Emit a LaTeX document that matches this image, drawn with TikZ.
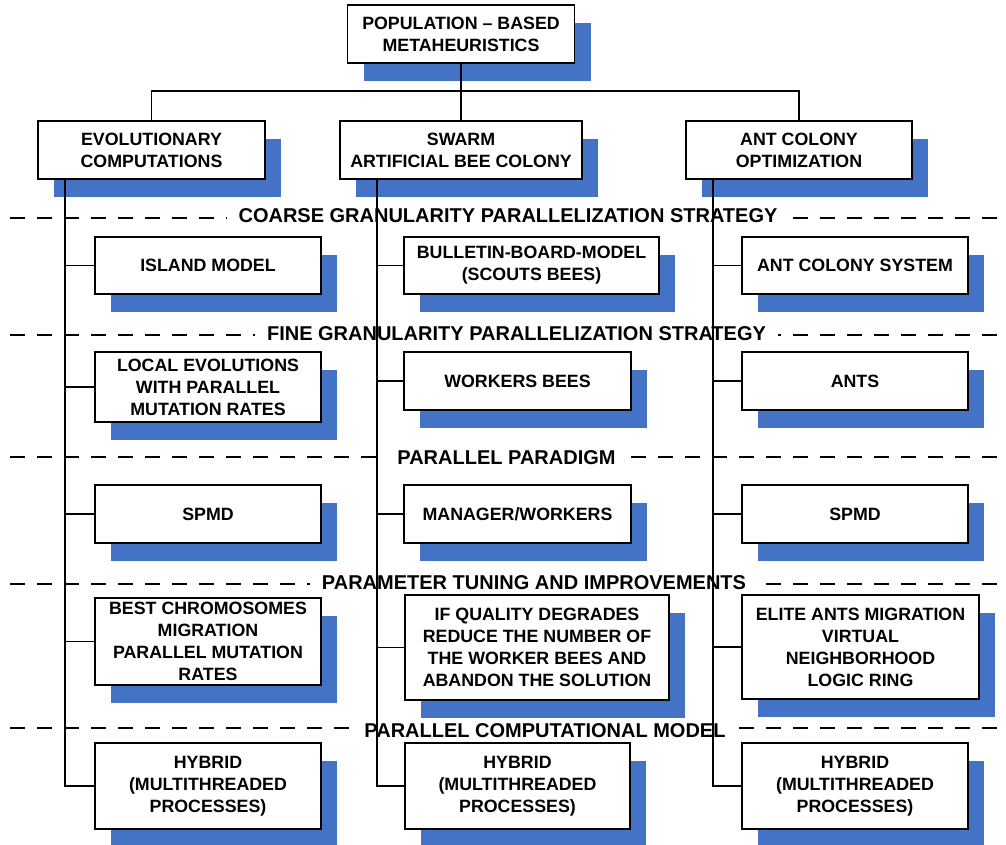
\documentclass[tikz,border=0pt]{standalone}
\usepackage{fontspec}
\setmainfont{Liberation Sans}
\usetikzlibrary{shadows}
\definecolor{shadowblue}{RGB}{68,114,196}
\begin{document}
\begin{tikzpicture}[x=1pt,y=-1pt,
 box/.style={draw=black, line width=1.8pt, fill=white, align=center, inner sep=2pt,
   font=\bfseries\fontsize{17.8}{22}\selectfont,
   drop shadow={shadow xshift=16pt, shadow yshift=-18pt, fill=shadowblue, opacity=1, draw=none}},
 lbl/.style={fill=white, font=\bfseries\fontsize{20}{24}\selectfont, inner xsep=12pt, inner ysep=1pt, text height=14.3pt, text depth=0pt},
 sep/.style={line width=1.7pt, dash pattern=on 15pt off 12pt},
 conn/.style={line width=1.8pt}]
\useasboundingbox (0,0) rectangle (1006,845);

% separators
\draw[sep] (10,218) -- (1006,218);
\draw[sep] (10,335) -- (1006,335);
\draw[sep] (10,457) -- (1006,457);
\draw[sep] (10,584) -- (1006,584);
\draw[sep] (10,728) -- (1006,728);

% section labels
\node[lbl] (l1) at (508,215.5) {COARSE GRANULARITY PARALLELIZATION STRATEGY};
\node[lbl] (l2) at (516.5,333.5) {FINE GRANULARITY PARALLELIZATION STRATEGY};
\node[lbl] (l3) at (506.5,457.5) {PARALLEL PARADIGM};
\node[lbl] (l4) at (534,582.5) {PARAMETER TUNING AND IMPROVEMENTS};
\node[lbl] (l5) at (545,730) {PARALLEL COMPUTATIONAL MODEL};

% top
\node[box, minimum width=227pt, minimum height=58pt] (top) at (461,34) {POPULATION -- BASED\\METAHEURISTICS};
\node[box, minimum width=227pt, minimum height=58pt] (evo) at (151.5,150) {EVOLUTIONARY\\COMPUTATIONS};
\node[box, minimum width=242pt, minimum height=58pt] (swarm) at (461,150) {SWARM\\ARTIFICIAL BEE COLONY};
\node[box, minimum width=226pt, minimum height=58pt] (aco) at (799,150) {ANT COLONY\\OPTIMIZATION};

% coarse row
\node[box, minimum width=226pt, minimum height=57pt] (island) at (208,265.5) {ISLAND MODEL};
\node[box, minimum width=255pt, minimum height=57pt] (bulletin) at (531.5,265.5) {BULLETIN-BOARD-MODEL\\(SCOUTS BEES)};
\node[box, minimum width=226pt, minimum height=57pt] (acs) at (855,265.5) {ANT COLONY SYSTEM};

% fine row
\node[box, minimum width=226pt, minimum height=70pt] (local) at (208,387) {LOCAL EVOLUTIONS\\WITH PARALLEL\\MUTATION RATES};
\node[box, minimum width=227pt, minimum height=58pt] (workers) at (517.5,381) {WORKERS BEES};
\node[box, minimum width=226pt, minimum height=58pt] (ants) at (855,381) {ANTS};

% paradigm row
\node[box, minimum width=226pt, minimum height=58pt] (spmd1) at (208,514) {SPMD};
\node[box, minimum width=227pt, minimum height=58pt] (manager) at (517.5,514) {MANAGER/WORKERS};
\node[box, minimum width=226pt, minimum height=58pt] (spmd2) at (855,514) {SPMD};

% parameter row
\node[box, minimum width=226pt, minimum height=87pt] (best) at (208,641.5) {BEST CHROMOSOMES\\MIGRATION\\PARALLEL MUTATION\\RATES};
\node[box, minimum width=264pt, minimum height=105pt] (quality) at (537,647.5) {IF QUALITY DEGRADES\\REDUCE THE NUMBER OF\\THE WORKER BEES AND\\ABANDON THE SOLUTION};
\node[box, minimum width=237pt, minimum height=104pt] (elite) at (860.5,647) {ELITE ANTS MIGRATION\\VIRTUAL\\NEIGHBORHOOD\\LOGIC RING};

% computational model row
\node[box, minimum width=226pt, minimum height=86pt] (hyb1) at (208,786) {HYBRID\\(MULTITHREADED\\PROCESSES)};
\node[box, minimum width=225pt, minimum height=86pt] (hyb2) at (517.5,786) {HYBRID\\(MULTITHREADED\\PROCESSES)};
\node[box, minimum width=226pt, minimum height=86pt] (hyb3) at (855,786) {HYBRID\\(MULTITHREADED\\PROCESSES)};

% top connectors
\draw[conn] (top.south) -- (swarm.north);
\draw[conn] (evo.north) -- ++(0,-29) -| (aco.north);

% trunks
\coordinate (t1) at ([xshift=28pt]evo.south west);
\coordinate (t2) at ([xshift=38pt]swarm.south west);
\coordinate (t3) at ([xshift=28pt]aco.south west);
\draw[conn] (t1) |- (hyb1.west);
\draw[conn] (t2) |- (hyb2.west);
\draw[conn] (t3) |- (hyb3.west);
\foreach \n in {island,local,spmd1,best} \draw[conn] (t1 |- \n.west) -- (\n.west);
\foreach \n in {bulletin,workers,manager,quality} \draw[conn] (t2 |- \n.west) -- (\n.west);
\foreach \n in {acs,ants,spmd2,elite} \draw[conn] (t3 |- \n.west) -- (\n.west);
\end{tikzpicture}
\end{document}
